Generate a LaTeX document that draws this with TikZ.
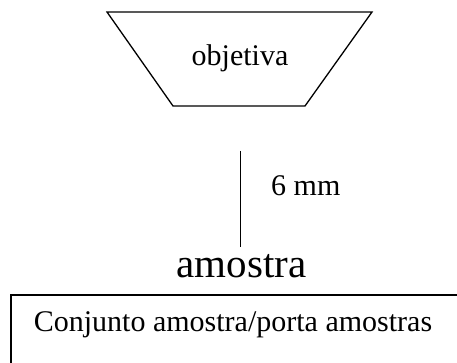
\documentclass[tikz,border=0pt]{standalone}
\usepackage{fontspec}
\setmainfont{Liberation Serif}
\begin{document}
\begin{tikzpicture}[x=1pt,y=-1pt,
  edge/.style={draw=black,line width=1.3pt,line join=miter},
  lbl/.style={inner sep=0pt,font=\fontsize{30}{36}\selectfont},
  biglbl/.style={inner sep=0pt,font=\fontsize{41}{48}\selectfont}]
\useasboundingbox (0,0) rectangle (457,363);
\clip (0,0) rectangle (457,363);
% lens (objective)
\coordinate (tl) at (107,12);
\coordinate (tr) at (372,12);
\coordinate (br) at (305,106);
\coordinate (bl) at (173,106);
\draw[edge] (tl) -- (tr) -- (br) -- (bl) -- cycle;
\node[lbl,anchor=base] (obj) at (240,66) {objetiva};
% distance line
\coordinate (ltop) at (240.7,151);
\coordinate (lbot) at (240.7,247);
\draw[edge] (ltop) -- (lbot);
\node[lbl,anchor=base west] (dist) at (271,196) {6 mm};
% sample
\node[biglbl,anchor=base] (amo) at (241.5,277) {amostra};
% holder
\coordinate (htl) at (11,295);
\coordinate (hbr) at (480,390);
\draw[edge] (htl) rectangle (hbr);
\node[lbl,anchor=base] (hold) at (233,331) {Conjunto amostra/porta amostras};
\end{tikzpicture}
\end{document}
